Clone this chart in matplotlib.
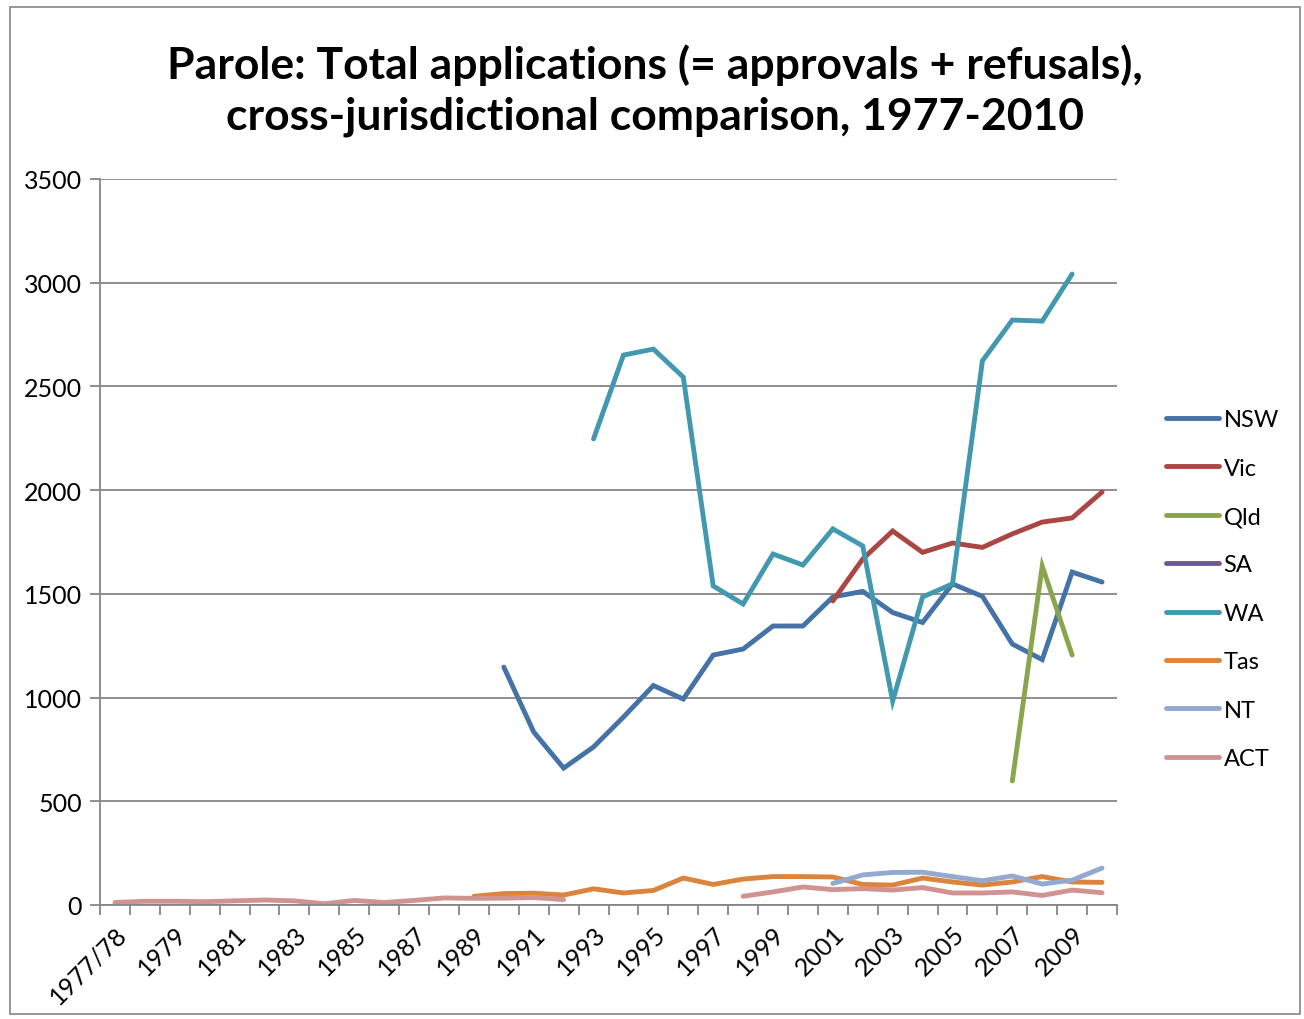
import numpy as np
import matplotlib
matplotlib.use('Agg')
import matplotlib.pyplot as plt
from matplotlib.patches import Rectangle

plt.rcParams['font.family'] = ['Lato', 'DejaVu Sans']

# categories: 1977/78, then 1978 ... 2010
years = ['1977/78'] + [str(y) for y in range(1978, 2011)]

nan = np.nan
# series values, indexed by category (nan where no data)
nsw = [nan] * 13 + [1147, 834, 660, 762, 906, 1058, 993, 1205, 1234, 1345, 1345,
                    1485, 1512, 1410, 1362, 1548, 1488, 1258, 1183, 1605, 1557]
vic = [nan] * 24 + [1466, 1668, 1803, 1700, 1745, 1724, 1789, 1846, 1866, 1991]
qld = [nan] * 30 + [598, 1634, 1205, nan]
sa = [nan] * 34
wa = [nan] * 16 + [2247, 2651, 2680, 2545, 1538, 1451, 1692, 1639, 1813, 1731,
                   983, 1485, 1548, 2623, 2820, 2815, 3042, nan]
tas = [nan] * 12 + [42, 55, 57, 48, 78, 58, 70, 130, 99, 125, 137, 137, 135, 99,
                    96, 130, 111, 96, 111, 137, 111, 109]
nt = [nan] * 24 + [104, 145, 157, 158, 137, 117, 140, 101, 120, 178]
act = [12, 18, 18, 16, 20, 24, 20, 6, 22, 12, 22, 34, 32, 33, 36, 26,
       nan, nan, nan, nan, nan, 42, 63, 87, 74, 79, 72, 84, 58, 58, 63, 46, 72, 59]

series = [('NSW', nsw, '#4572A7'), ('Vic', vic, '#AA4643'), ('Qld', qld, '#89A54E'),
          ('SA', sa, '#71588F'), ('WA', wa, '#4198AF'), ('Tas', tas, '#DB843D'),
          ('NT', nt, '#93A9CF'), ('ACT', act, '#D19392')]

fig = plt.figure(figsize=(13.04, 10.2), dpi=100)
ax = fig.add_axes([100 / 1304, 1 - 906 / 1020, 1017 / 1304, 726 / 1020])

x = np.arange(len(years))
for name, vals, col in series:
    ax.plot(x, vals, color=col, lw=3.5, label=name, solid_capstyle='round',
            solid_joinstyle='miter')

ax.set_xlim(-0.5, len(years) - 0.5)
ax.set_ylim(0, 3500)
ax.set_yticks(np.arange(0, 3501, 500))
ax.yaxis.grid(True, color='#868686', lw=1.3)
ax.set_axisbelow(True)

# tick marks between categories, labels on every second category
ax.set_xticks(np.arange(0, len(years), 2))
ax.set_xticklabels(years[::2], rotation=45, ha='right', rotation_mode='anchor')
ax.set_xticks(np.arange(-0.5, len(years), 1), minor=True)
ax.tick_params(axis='x', which='major', length=0, pad=12, labelsize=18)
ax.tick_params(axis='x', which='minor', length=7, width=1.3, color='#868686')
ax.tick_params(axis='y', length=7, width=1.3, color='#868686', labelsize=18, pad=6)

for s in ['top', 'right']:
    ax.spines[s].set_visible(False)
for s in ['left', 'bottom']:
    ax.spines[s].set_color('#868686')
    ax.spines[s].set_linewidth(1.3)

fig.text(0.502, 0.911, 'Parole: Total applications (= approvals + refusals),\n'
         'cross-jurisdictional comparison, 1977-2010',
         ha='center', va='center', fontsize=32, fontweight='bold', linespacing=1.3)

ax.legend(loc='center left', bbox_to_anchor=(1.027, 0.435), frameon=False,
          fontsize=17, handlelength=2.25, handletextpad=0.2, labelspacing=1.16)

fig.patches.append(Rectangle((10 / 1304, 0.005), 1290 / 1304, 1 - 8 / 1020 - 0.005,
                             transform=fig.transFigure, fill=False,
                             edgecolor='#868686', lw=1.2))

fig.savefig('out.png', dpi=100)
